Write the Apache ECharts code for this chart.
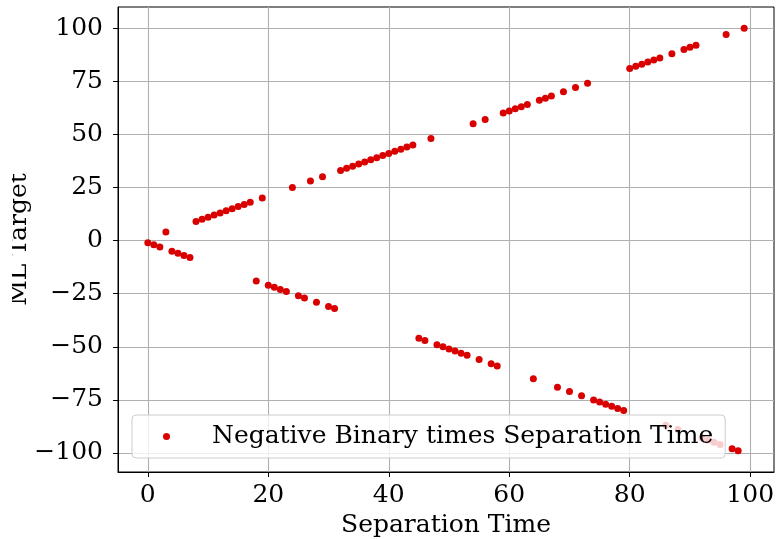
<!DOCTYPE html>
<html>
<head>
<meta charset="utf-8">
<script src="https://cdn.jsdelivr.net/npm/echarts@6/dist/echarts.min.js"></script>
<style>
  html, body { margin: 0; padding: 0; background: #ffffff; }
  #chart { width: 776px; height: 539px; }
</style>
</head>
<body>
<div id="chart"></div>
<script>
// Separation time (x) and the signed ML target (y) for each sample
const separationTime = [
  0, 1, 2, 3, 4, 5, 6, 7, 8, 9,
  10, 11, 12, 13, 14, 15, 16, 17, 18, 19,
  20, 21, 22, 23, 24, 25, 26, 27, 28, 29,
  30, 31, 32, 33, 34, 35, 36, 37, 38, 39,
  40, 41, 42, 43, 44, 45, 46, 47, 48, 49,
  50, 51, 52, 53, 54, 55, 56, 57, 58, 59,
  60, 61, 62, 63, 64, 65, 66, 67, 68, 69,
  70, 71, 72, 73, 74, 75, 76, 77, 78, 79,
  80, 81, 82, 83, 84, 85, 86, 87, 88, 89,
  90, 91, 92, 93, 94, 95, 96, 97, 98, 99
];
const mlTarget = [
  -1, -2, -3, 4, -5, -6, -7, -8, 9, 10,
  11, 12, 13, 14, 15, 16, 17, 18, -19, 20,
  -21, -22, -23, -24, 25, -26, -27, 28, -29, 30,
  -31, -32, 33, 34, 35, 36, 37, 38, 39, 40,
  41, 42, 43, 44, 45, -46, -47, 48, -49, -50,
  -51, -52, -53, -54, 55, -56, 57, -58, -59, 60,
  61, 62, 63, 64, -65, 66, 67, 68, -69, 70,
  -71, 72, -73, 74, -75, -76, -77, -78, -79, -80,
  81, 82, 83, 84, 85, 86, -87, 88, -89, 90,
  91, 92, -93, -94, -95, -96, 97, -98, -99, 100
];
const xTicks = [0, 20, 40, 60, 80, 100];
const yTicks = [-100, -75, -50, -25, 0, 25, 50, 75, 100];
const seriesName = 'Negative Binary times Separation Time';

const FONT = '"DejaVu Serif", serif';
const FS = 25;
const points = separationTime.map((t, i) => [t, mlTarget[i]]);

// 5% padding around the data extent on both axes
const xSpan = Math.max(...separationTime) - Math.min(...separationTime);
const ySpan = Math.max(...mlTarget) - Math.min(...mlTarget);
const xMin = Math.min(...separationTime) - 0.05 * xSpan;
const xMax = Math.max(...separationTime) + 0.05 * xSpan;
const yMin = Math.min(...mlTarget) - 0.05 * ySpan;
const yMax = Math.max(...mlTarget) + 0.05 * ySpan;

const chart = echarts.init(document.getElementById('chart'), null, { renderer: 'canvas' });

const axisCommon = {
  nameMoveOverlap: false,
  axisLine: { show: true, onZero: false, lineStyle: { color: '#000000', width: 1 } },
  axisTick: { show: true, inside: false, length: 5, lineStyle: { color: '#000000', width: 1 } },
  splitLine: { show: true, lineStyle: { color: '#b0b0b0', width: 1.1 } },
  nameTextStyle: { fontFamily: FONT, fontSize: FS, color: '#000000' }
};

chart.setOption({
  animation: false,
  backgroundColor: '#ffffff',
  grid: {
    left: 118, top: 7, right: 2, bottom: 67,
    outerBoundsMode: 'none',
    containLabel: false,
    show: true, borderColor: '#000000', borderWidth: 1, backgroundColor: 'transparent'
  },
  xAxis: Object.assign({}, axisCommon, {
    type: 'value',
    min: xMin, max: xMax,
    name: 'Separation Time',
    nameLocation: 'middle',
    nameGap: 41,
    axisTick: Object.assign({}, axisCommon.axisTick, { customValues: xTicks }),
    splitLine: Object.assign({}, axisCommon.splitLine, { customValues: xTicks }),
    axisLabel: {
      customValues: xTicks,
      margin: 11,
      fontFamily: FONT, fontSize: FS, color: '#000000'
    }
  }),
  yAxis: Object.assign({}, axisCommon, {
    type: 'value',
    min: yMin, max: yMax,
    name: 'ML Target',
    nameLocation: 'middle',
    nameGap: 86,
    axisTick: Object.assign({}, axisCommon.axisTick, { customValues: yTicks }),
    splitLine: Object.assign({}, axisCommon.splitLine, { customValues: yTicks }),
    axisLabel: {
      customValues: yTicks,
      margin: 15,
      fontFamily: FONT, fontSize: FS, color: '#000000',
      formatter: v => (v < 0 ? '\u2212' + Math.abs(v) : String(v))
    }
  }),
  legend: {
    show: true,
    left: 132, top: 415,
    orient: 'horizontal',
    padding: [7, 12, 7, 31],
    itemWidth: 7, itemHeight: 7,
    backgroundColor: 'rgba(255,255,255,0.8)',
    borderColor: '#cccccc', borderWidth: 1, borderRadius: 4,
    zlevel: 1, z: 10,
    textStyle: {
      fontFamily: FONT, fontSize: FS, color: '#000000',
      lineHeight: 29, padding: [0, 0, 0, 37]
    },
    data: [{ name: seriesName, icon: 'circle' }]
  },
  // white band at the left edge, trimming the top of the y-axis title
  graphic: [{
    type: 'rect', left: 0, top: 0, z: 100, zlevel: 2,
    shape: { width: 12, height: 539 },
    style: { fill: '#ffffff' }
  }],
  series: [{
    name: seriesName,
    type: 'scatter',
    data: points,
    symbol: 'circle',
    symbolSize: 7,
    itemStyle: { color: '#d90000', opacity: 1 },
    z: 2
  }]
});
</script>
</body>
</html>
